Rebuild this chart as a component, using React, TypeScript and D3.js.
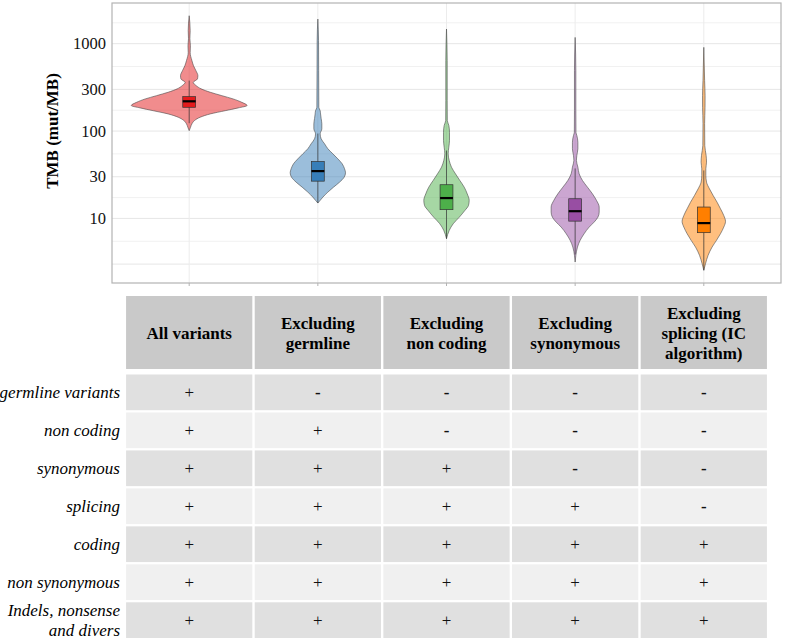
import React from "react";
import * as d3 from "d3";

// groups on the x axis and their colours
const groups = ["All variants", "Excluding germline", "Excluding non coding", "Excluding synonymous", "Excluding splicing"];
const groupColors = ["#E41A1C", "#377EB8", "#4DAF4A", "#984EA3", "#FF7F00"];

// violin outlines: [TMB (mut/MB), relative density]
const allVariantsDensity: [number, number][] = [
  [2089, 0], [1409, 0.017], [1141, 0.012], [948, 0.021], [789, 0.017], [640, 0.047], [561, 0.074],
  [491, 0.116], [431, 0.15], [395, 0.143], [361, 0.07], [331, 0.12], [304, 0.207], [278, 0.363],
  [254, 0.565], [233, 0.76], [213, 0.91], [196, 1.0], [184, 0.846], [171, 0.622], [157, 0.363],
  [144, 0.19], [132, 0.092], [121, 0.047], [110, 0.022], [101, 0],
];
const exclGermlineDensity: [number, number][] = [
  [1914, 0], [1081, 0.012], [491, 0.014], [187, 0.017], [171, 0.04], [157, 0.047], [139, 0.057],
  [121, 0.069], [106, 0.069], [92.9, 0.04], [81.5, 0.057], [71.5, 0.116], [62.7, 0.173], [54.9, 0.259],
  [48.1, 0.345], [42.2, 0.42], [37.0, 0.461], [33.3, 0.478], [29.6, 0.454], [26.0, 0.375], [22.8, 0.271],
  [20.0, 0.173], [17.5, 0.086], [16.1, 0.04], [15.0, 0],
];
const exclNonCodingDensity: [number, number][] = [
  [1472, 0], [640, 0.012], [223, 0.012], [132, 0.014], [116, 0.04], [96.8, 0.052], [77.9, 0.052],
  [65.3, 0.04], [54.9, 0.029], [46.0, 0.047], [38.6, 0.086], [32.4, 0.155], [27.2, 0.23], [22.8, 0.306],
  [19.1, 0.358], [16.1, 0.392], [14.1, 0.38], [12.3, 0.316], [10.3, 0.219], [8.69, 0.116], [7.29, 0.047],
  [5.86, 0],
];
const exclSynonymousDensity: [number, number][] = [
  [1180, 0], [491, 0.012], [171, 0.012], [96.8, 0.014], [88.8, 0.029], [74.5, 0.047], [62.7, 0.047],
  [52.5, 0.029], [46.0, 0.022], [38.6, 0.047], [32.4, 0.069], [27.2, 0.126], [22.8, 0.212], [19.1, 0.299],
  [16.1, 0.368], [13.5, 0.415], [11.8, 0.415], [10.3, 0.392], [9.08, 0.328], [7.96, 0.242], [6.68, 0.155],
  [5.61, 0.086], [4.70, 0.04], [3.78, 0.012], [3.17, 0],
];
const exclSplicingDensity: [number, number][] = [
  [908, 0], [378, 0.014], [254, 0.022], [187, 0.021], [122, 0.014], [68.2, 0.017], [52.5, 0.04],
  [44.0, 0.047], [37.0, 0.035], [31.0, 0.035], [26.0, 0.047], [21.8, 0.098], [18.3, 0.161], [15.3, 0.23],
  [12.9, 0.288], [10.8, 0.345], [9.24, 0.375], [7.96, 0.345], [6.68, 0.288], [5.61, 0.219], [4.70, 0.143],
  [3.78, 0.074], [3.03, 0.029], [2.55, 0],
];
const densities = [allVariantsDensity, exclGermlineDensity, exclNonCodingDensity, exclSynonymousDensity, exclSplicingDensity];

// box plot statistics per group
const whiskerLow = [123, 15.0, 5.86, 3.88, 2.55];
const q1 = [187, 26.7, 12.6, 9.31, 6.87];
const medians = [219, 34.8, 17.1, 12.1, 8.84];
const q3 = [248, 44.8, 24.3, 16.8, 13.5];
const whiskerHigh = [378, 93.6, 59.8, 37.3, 35.4];

// y axis
const gridBreaks = [1, 3, 10, 30, 100, 300, 1000, 3000];
const tickLabels = [10, 30, 100, 300, 1000];

// table below the plot
const headerLines = [
  ["All variants"],
  ["Excluding", "germline"],
  ["Excluding", "non coding"],
  ["Excluding", "synonymous"],
  ["Excluding", "splicing (IC", "algorithm)"],
];
const variantTypes = [
  ["germline variants"],
  ["non coding"],
  ["synonymous"],
  ["splicing"],
  ["coding"],
  ["non synonymous"],
  ["Indels, nonsense", "and divers"],
];
const inclusion = [
  ["+", "-", "-", "-", "-"],
  ["+", "+", "-", "-", "-"],
  ["+", "+", "+", "-", "-"],
  ["+", "+", "+", "+", "-"],
  ["+", "+", "+", "+", "+"],
  ["+", "+", "+", "+", "+"],
  ["+", "+", "+", "+", "+"],
];

const serif = "'Liberation Serif', 'Times New Roman', Times, serif";

export default function App() {
  const W = 787;
  const H = 640;
  const panel = { left: 112, right: 781, top: 3, bottom: 283 };

  const x = d3.scalePoint<string>().domain(groups).range([panel.left, panel.right]).padding(0.6);
  const step = x.step();

  // log scale with ggplot-like 5% expansion
  const allVals = densities.flat().map((d) => d[0]);
  const lo = Math.log10(d3.min(allVals)!);
  const hi = Math.log10(d3.max(allVals)!);
  const pad = (hi - lo) * 0.05;
  const y = d3
    .scaleLog()
    .domain([Math.pow(10, lo - pad), Math.pow(10, hi + pad)])
    .range([panel.bottom, panel.top]);
  const [dMin, dMax] = y.domain();

  const w = d3.scaleLinear().domain([0, 1]).range([0, step * 0.45]);
  const boxW = step * 0.1;

  const majors = gridBreaks.filter((b) => b >= dMin && b <= dMax);
  const minors = d3
    .pairs(gridBreaks)
    .map(([a, b]) => Math.sqrt(a * b))
    .filter((b) => b >= dMin && b <= dMax);

  const colGap = 2.4;
  const cellW = step - colGap;
  const header = { top: 296, bottom: 369 };
  const rows = d3
    .scaleBand<number>()
    .domain(d3.range(variantTypes.length))
    .range([374.5, 638])
    .paddingInner(0.06);
  const lineH = 20;
  const rowFills = ["#e0e0e0", "#f0f0f0"];

  return (
    <svg width={W} height={H} style={{ position: "absolute", left: 0, top: 0, background: "#fff" }}>
      <defs>
        <clipPath id="panel-clip">
          <rect x={panel.left} y={panel.top} width={panel.right - panel.left} height={panel.bottom - panel.top} />
        </clipPath>
      </defs>

      {/* panel background and grid */}
      <rect x={panel.left} y={panel.top} width={panel.right - panel.left} height={panel.bottom - panel.top} fill="#fff" />
      <g clipPath="url(#panel-clip)">
        {minors.map((v) => (
          <line key={"mi" + v} x1={panel.left} x2={panel.right} y1={y(v)} y2={y(v)} stroke="#f1f1f1" strokeWidth={1} />
        ))}
        {majors.map((v) => (
          <line key={"ma" + v} x1={panel.left} x2={panel.right} y1={y(v)} y2={y(v)} stroke="#e6e6e6" strokeWidth={1} />
        ))}
        {groups.map((g) => (
          <line key={"vx" + g} x1={x(g)} x2={x(g)} y1={panel.top} y2={panel.bottom} stroke="#ececec" strokeWidth={1} />
        ))}

        {/* violins */}
        {groups.map((g, i) => {
          const cx = x(g)!;
          const area = d3
            .area<[number, number]>()
            .y((d) => y(d[0]))
            .x0((d) => cx - w(d[1]))
            .x1((d) => cx + w(d[1]))
            .curve(d3.curveMonotoneY);
          const pts = [...densities[i]].sort((a, b) => b[0] - a[0]);
          return (
            <path
              key={"v" + g}
              d={area(pts)!}
              fill={groupColors[i]}
              fillOpacity={0.5}
              stroke="#4a4a4a"
              strokeOpacity={0.75}
              strokeWidth={0.8}
            />
          );
        })}

        {/* box plots */}
        {groups.map((g, i) => {
          const cx = x(g)!;
          return (
            <g key={"b" + g}>
              <line x1={cx} x2={cx} y1={y(whiskerHigh[i])} y2={y(whiskerLow[i])} stroke="#333" strokeWidth={0.7} />
              <rect
                x={cx - boxW / 2}
                y={y(q3[i])}
                width={boxW}
                height={y(q1[i]) - y(q3[i])}
                fill={groupColors[i]}
                stroke="#333"
                strokeWidth={0.7}
              />
              <line x1={cx - boxW / 2} x2={cx + boxW / 2} y1={y(medians[i])} y2={y(medians[i])} stroke="#000" strokeWidth={2.2} />
            </g>
          );
        })}
      </g>
      <rect
        x={panel.left}
        y={panel.top}
        width={panel.right - panel.left}
        height={panel.bottom - panel.top}
        fill="none"
        stroke="#b3b3b3"
        strokeWidth={1.2}
      />

      {/* x ticks */}
      {groups.map((g) => (
        <line key={"xt" + g} x1={x(g)} x2={x(g)} y1={panel.bottom} y2={panel.bottom + 3} stroke="#b3b3b3" strokeWidth={1} />
      ))}

      {/* y tick labels */}
      {tickLabels.map((v) => (
        <text key={"yl" + v} x={panel.left - 6} y={y(v)} textAnchor="end" dominantBaseline="central" fontFamily={serif} fontSize={16.5} fill="#111">
          {v}
        </text>
      ))}
      <text
        transform={`translate(52,131) rotate(-90)`}
        textAnchor="middle"
        dominantBaseline="central"
        fontFamily={serif}
        fontSize={17}
        fontWeight="bold"
        fill="#000"
      >
        TMB (mut/MB)
      </text>

      {/* table header */}
      {groups.map((g, j) => {
        const cx = x(g)!;
        const lines = headerLines[j];
        const mid = (header.top + header.bottom) / 2 + 1;
        return (
          <g key={"h" + g}>
            <rect x={cx - cellW / 2} y={header.top} width={cellW} height={header.bottom - header.top} fill="#c9c9c9" />
            {lines.map((t, k) => (
              <text
                key={k}
                x={cx}
                y={mid + (k - (lines.length - 1) / 2) * lineH}
                textAnchor="middle"
                dominantBaseline="central"
                fontFamily={serif}
                fontSize={17}
                fontWeight="bold"
                fill="#000"
              >
                {t}
              </text>
            ))}
          </g>
        );
      })}

      {/* table body */}
      {variantTypes.map((label, r) => {
        const top = rows(r)!;
        const mid = top + rows.bandwidth() / 2;
        return (
          <g key={"r" + r}>
            {label.map((t, k) => (
              <text
                key={k}
                x={120}
                y={mid + (k - (label.length - 1) / 2) * lineH}
                textAnchor="end"
                dominantBaseline="central"
                fontFamily={serif}
                fontSize={17}
                fontStyle="italic"
                fill="#000"
              >
                {t}
              </text>
            ))}
            {groups.map((g, j) => (
              <g key={g}>
                <rect x={x(g)! - cellW / 2} y={top} width={cellW} height={rows.bandwidth()} fill={rowFills[r % 2]} />
                <text
                  x={x(g)}
                  y={mid}
                  textAnchor="middle"
                  dominantBaseline="central"
                  fontFamily={serif}
                  fontSize={17}
                  fontWeight={inclusion[r][j] === "-" ? "bold" : "normal"}
                  fill="#111"
                >
                  {inclusion[r][j]}
                </text>
              </g>
            ))}
          </g>
        );
      })}
    </svg>
  );
}
